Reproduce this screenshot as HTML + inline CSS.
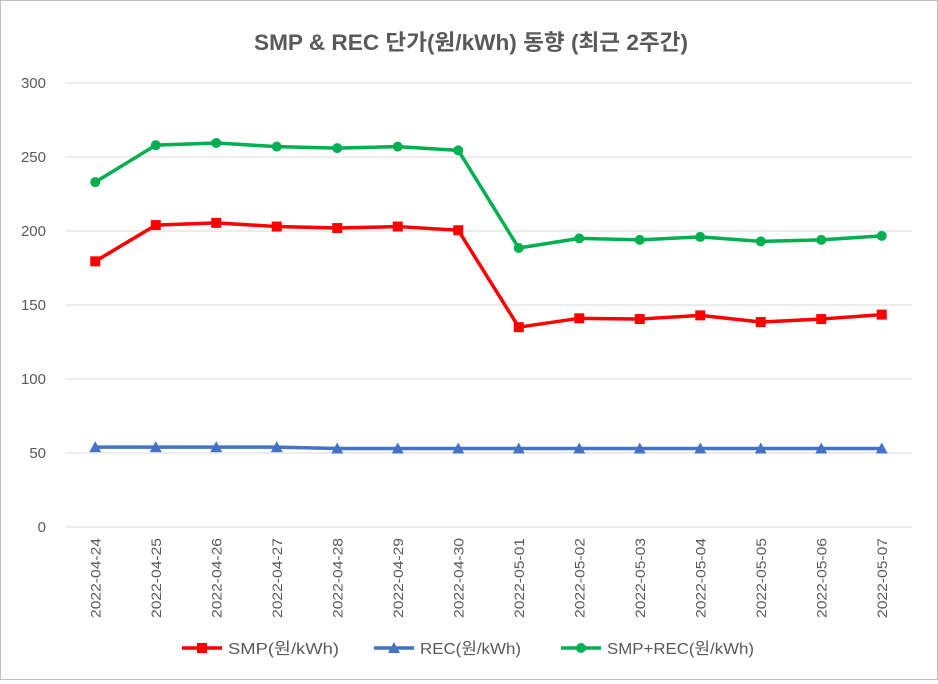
<!DOCTYPE html>
<html><head><meta charset="utf-8"><style>
body{margin:0;background:#fff}
#wrap{width:938px;height:680px;position:relative;box-sizing:border-box;border:1px solid #bfbfbf;background:#fff}
svg text{font-family:"Liberation Sans","Noto Sans CJK KR",sans-serif;fill:#595959}
</style></head><body>
<div id="wrap">
<svg id="chart" width="936" height="678"></svg>
</div>
<script>
const categories=["2022-04-24","2022-04-25","2022-04-26","2022-04-27","2022-04-28","2022-04-29","2022-04-30","2022-05-01","2022-05-02","2022-05-03","2022-05-04","2022-05-05","2022-05-06","2022-05-07"];
const smpValues=[179.5,204,205.5,203,202,203,200.5,135,141,140.5,143,138.5,140.5,143.5];
const recValues=[54,54,54,54,53,53,53,53,53,53,53,53,53,53];
const totalValues=[233,258,259.5,257,256,257,254.5,188.5,195,194,196,193,194,196.7];
const yTicks=[0,50,100,150,200,250,300];
const seriesNames=["SMP(원/kWh)","REC(원/kWh)","SMP+REC(원/kWh)"];

const NS="http://www.w3.org/2000/svg";
const svg=document.getElementById('chart');
function mk(tag,attrs,parent){const e=document.createElementNS(NS,tag);for(const k in attrs)e.setAttribute(k,attrs[k]);(parent||svg).appendChild(e);return e;}
const x0=64,x1=911,yBase=526,yTop=82,yMax=300;
const yS=v=>yBase-(v/yMax)*(yBase-yTop);
const step=(x1-x0)/categories.length;
const xS=i=>x0+step*(i+0.5);

let t=mk('text',{x:470,y:49,'text-anchor':'middle','font-size':22,'font-weight':'bold',textLength:434,lengthAdjust:'spacingAndGlyphs'});
t.textContent="SMP & REC 단가(원/kWh) 동향 (최근 2주간)";



yTicks.forEach(v=>{
  const g=mk('line',{x1:x0,x2:x1,y1:yS(v),y2:yS(v),stroke:'#d9d9d9','stroke-width':1});
  
  
  const l=mk('text',{x:45,y:yS(v)+5,'text-anchor':'end','font-size':15});
  l.textContent=v;
  
  
});
categories.forEach((c,i)=>{
  const l=mk('text',{x:0,y:0,'text-anchor':'end','font-size':14,textLength:80,lengthAdjust:'spacingAndGlyphs',transform:`translate(${xS(i)+5},537) rotate(-90)`});
  l.textContent=c;
  
  
});

function marker(type,x,y,color,parent){
  let m;
  if(type==='square')m=mk('rect',{x:x-5,y:y-5,width:10,height:10,fill:color},parent);
  else if(type==='tri')m=mk('polygon',{points:`${x},${y-6} ${x+6},${y+5} ${x-6},${y+5}`,fill:color},parent);
  else m=mk('circle',{cx:x,cy:y,r:5,fill:color},parent);
  return m;
}
function series(vals,color,type,name){
  const g=mk('g',{});
  
  
  const p=mk('polyline',{points:vals.map((v,i)=>xS(i)+','+yS(v)).join(' '),fill:'none',stroke:color,'stroke-width':3.5,'stroke-linejoin':'round'},g);
  
  
  vals.forEach((v,i)=>{
    const m=marker(type,xS(i),yS(v),color,g);
    
    
  });
}
series(recValues,'#4472c4','tri','rec');
series(totalValues,'#00b050','circle','smp-rec');
series(smpValues,'#ff0000','square','smp');

const legend=[[181,'#ff0000','square',111],[373,'#4472c4','tri',101],[560,'#00b050','circle',147]];
legend.forEach((L,i)=>{
  const g=mk('g',{});
  
  
  mk('line',{x1:L[0],x2:L[0]+40,y1:647,y2:647,stroke:L[1],'stroke-width':3.5},g);
  marker(L[2],L[0]+20,647,L[1],g);
  const tx=mk('text',{x:L[0]+46,y:653,'font-size':16,textLength:L[3],lengthAdjust:'spacingAndGlyphs'},g);
  tx.textContent=seriesNames[i];
});
</script>
</body></html>
